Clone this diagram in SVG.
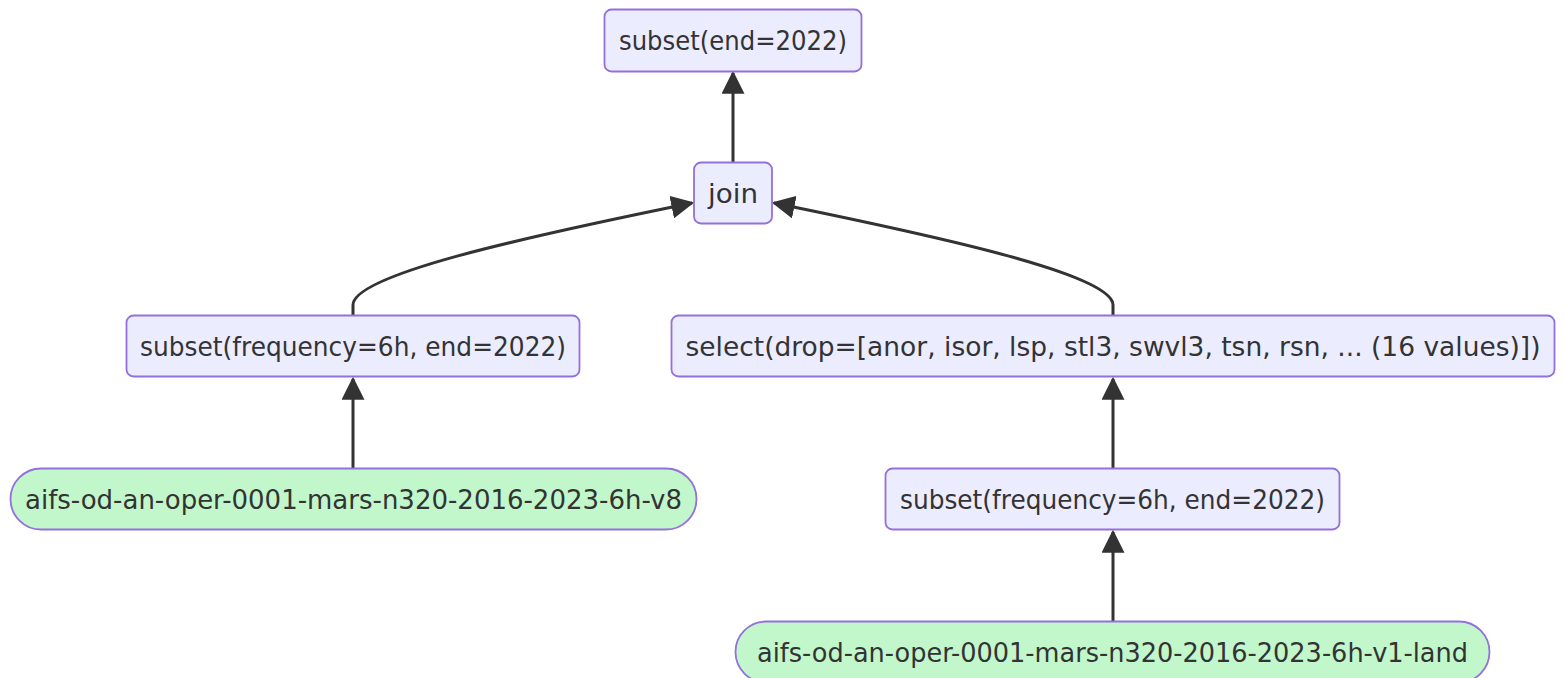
<svg xmlns="http://www.w3.org/2000/svg" width="1565" height="678" viewBox="0 0 1565 678">
  <style>
    .node rect { fill: #ECECFF; stroke: #9370DB; stroke-width: 1.8; }
    .node.source rect { fill: #C1F7CB; }
    .node text { font-family: "DejaVu Sans", sans-serif; font-size: 27px; fill: #333333; text-anchor: middle; dominant-baseline: central; }
    .edges path { fill: none; stroke: #333333; stroke-width: 3; }
  </style>
  <defs>
    <marker id="arrow" viewBox="0 0 10 10" refX="9" refY="5" markerUnits="userSpaceOnUse" markerWidth="23" markerHeight="23" orient="auto">
      <path d="M0,0 L10,5 L0,10 z" fill="#333333" stroke="none"/>
    </marker>
  </defs>
  <rect width="1565" height="678" fill="#ffffff"/>

  <!-- connectors -->
  <g class="edges">
    <path d="M733,162 L733,73" marker-end="url(#arrow)"/>
    <path d="M353,315 L353,305 C353,275 520,238 692,203" marker-end="url(#arrow)"/>
    <path d="M1113,315 L1113,305 C1113,275 946,238 774,203" marker-end="url(#arrow)"/>
    <path d="M353,468 L353,379" marker-end="url(#arrow)"/>
    <path d="M1113,468 L1113,379" marker-end="url(#arrow)"/>
    <path d="M1113,621 L1113,532" marker-end="url(#arrow)"/>
  </g>

  <!-- nodes -->
  <g id="subset-end" class="node">
    <rect x="604.5" y="9.5" width="257" height="62" rx="7"/>
    <text x="733" y="40.5" textLength="228" lengthAdjust="spacingAndGlyphs">subset(end=2022)</text>
  </g>
  <g id="join" class="node">
    <rect x="694" y="162.5" width="78" height="61" rx="7"/>
    <text x="733" y="193" textLength="50" lengthAdjust="spacingAndGlyphs">join</text>
  </g>
  <g id="subset-left" class="node">
    <rect x="126.5" y="315.5" width="453" height="61" rx="7"/>
    <text x="353" y="346" textLength="426" lengthAdjust="spacingAndGlyphs">subset(frequency=6h, end=2022)</text>
  </g>
  <g id="select" class="node">
    <rect x="671.5" y="315.5" width="883" height="61" rx="7"/>
    <text x="1113" y="346" textLength="855" lengthAdjust="spacingAndGlyphs">select(drop=[anor, isor, lsp, stl3, swvl3, tsn, rsn, ... (16 values)])</text>
  </g>
  <g id="source-v8" class="node source">
    <rect x="10.5" y="468.5" width="686" height="61" rx="30.5"/>
    <text x="353.5" y="499" textLength="657" lengthAdjust="spacingAndGlyphs">aifs-od-an-oper-0001-mars-n320-2016-2023-6h-v8</text>
  </g>
  <g id="subset-right" class="node">
    <rect x="885.5" y="468.5" width="454" height="61" rx="7"/>
    <text x="1112.5" y="499" textLength="425" lengthAdjust="spacingAndGlyphs">subset(frequency=6h, end=2022)</text>
  </g>
  <g id="source-land" class="node source">
    <rect x="735.5" y="621.5" width="754" height="61" rx="30.5"/>
    <text x="1112.5" y="652" textLength="711" lengthAdjust="spacingAndGlyphs">aifs-od-an-oper-0001-mars-n320-2016-2023-6h-v1-land</text>
  </g>
</svg>
